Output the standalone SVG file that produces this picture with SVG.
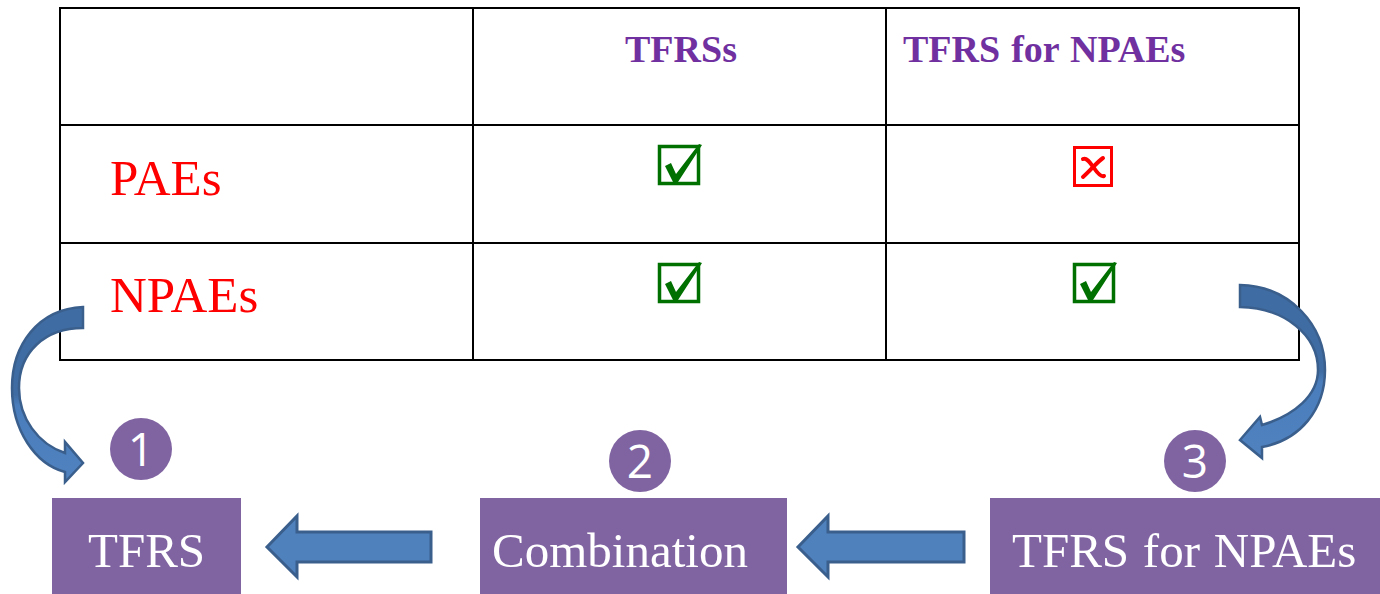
<svg xmlns="http://www.w3.org/2000/svg" width="1380" height="594" viewBox="0 0 1380 594">
  <style>
    .grid { stroke: #000; stroke-width: 2; fill: none; }
    .head { font-family: "Liberation Serif", "Times New Roman", serif; font-weight: bold; font-size: 38px; fill: #7030A0; }
    .rowlbl { font-family: "Liberation Serif", "Times New Roman", serif; font-size: 51px; fill: #FF0000; }
    .box { fill: #8064A2; }
    .boxtxt { font-family: "Liberation Serif", "Times New Roman", serif; font-size: 49px; fill: #FFFFFF; }
    .badge { fill: #8064A2; }
    .badgetxt { font-family: "Open Sans", "Liberation Sans", sans-serif; font-size: 46px; fill: #FFFFFF; text-anchor: middle; }
    .blockarrow { fill: #4F81BD; stroke: #3A5F8D; stroke-width: 3; stroke-linejoin: miter; }
    .curved { fill: url(#curveFill); stroke: #3A5F8D; stroke-width: 2.5; stroke-linejoin: miter; }
  </style>
  <defs>
    <linearGradient id="curveFill" x1="0" y1="0" x2="0" y2="1">
      <stop offset="0" stop-color="#3F6CA2"/>
      <stop offset="0.5" stop-color="#3F6CA2"/>
      <stop offset="0.56" stop-color="#4A7DBB"/>
      <stop offset="1" stop-color="#4F82BF"/>
    </linearGradient>
    <g id="check">
      <rect x="1.5" y="1.5" width="39" height="37" fill="none" stroke="#007000" stroke-width="3.5"/>
      <path d="M7,21 L13,18 L18,29 L41,-1 L44,0 L20,37 L15,37 Z" fill="#007000"/>
    </g>
    <g id="cross">
      <rect x="1.5" y="1.5" width="37" height="38" fill="none" stroke="#FF0000" stroke-width="3"/>
      <path d="M10,13 C14,11 18,18 21,22 C25,28 28,31 31,30" fill="none" stroke="#FF0000" stroke-width="4" stroke-linecap="round"/>
      <path d="M30,12 C24,16 18,24 10,31" fill="none" stroke="#FF0000" stroke-width="4" stroke-linecap="round"/>
    </g>
  </defs>

  <!-- comparison table -->
  <g id="table">
    <rect class="grid" x="60" y="8" width="1239" height="352"/>
    <line class="grid" x1="60" y1="125" x2="1299" y2="125"/>
    <line class="grid" x1="60" y1="243" x2="1299" y2="243"/>
    <line class="grid" x1="473" y1="8" x2="473" y2="360"/>
    <line class="grid" x1="886" y1="8" x2="886" y2="360"/>
    <text class="head" x="625" y="62">TFRSs</text>
    <text class="head" x="903" y="62" word-spacing="1.5">TFRS for NPAEs</text>
    <text class="rowlbl" x="110" y="195">PAEs</text>
    <text class="rowlbl" x="110" y="312">NPAEs</text>
    <use href="#check" x="658" y="145"/>
    <use href="#cross" x="1073" y="146"/>
    <use href="#check" x="658" y="263"/>
    <use href="#check" x="1073" y="263"/>
  </g>

  <!-- step boxes -->
  <g id="step1">
    <rect class="box" x="52" y="498" width="189" height="96"/>
    <text class="boxtxt" x="88" y="567">TFRS</text>
  </g>
  <g id="step2">
    <rect class="box" x="480" y="498" width="307" height="96"/>
    <text class="boxtxt" x="492" y="567">Combination</text>
  </g>
  <g id="step3">
    <rect class="box" x="990" y="498" width="390" height="96"/>
    <text class="boxtxt" x="1012" y="567" word-spacing="1.5">TFRS for NPAEs</text>
  </g>

  <!-- numbered badges -->
  <g id="badge1">
    <circle class="badge" cx="141" cy="449" r="31"/>
    <text class="badgetxt" x="141" y="466">1</text>
  </g>
  <g id="badge2">
    <circle class="badge" cx="640" cy="461" r="31"/>
    <text class="badgetxt" x="640" y="478">2</text>
  </g>
  <g id="badge3">
    <circle class="badge" cx="1195" cy="461" r="31"/>
    <text class="badgetxt" x="1195" y="478">3</text>
  </g>

  <!-- connectors -->
  <g id="connectors">
    <path class="curved" d="M83,307 C38,309 12,345 12,388 C12,430 35,464 65,472 L65,482 L83,463 L65,442 L65,453 C38,444 19,418 19,388 C19,352 45,328 83,328 Z"/>
    <path class="curved" d="M1240,285 C1290,286 1325,325 1325,370 C1325,410 1300,440 1262,447 L1262,458 L1240,440 L1260,417 L1262,425 C1295,415 1318,395 1318,370 C1318,335 1285,308 1240,307 Z"/>
    <path class="blockarrow" d="M431,532 L297,532 L297,516 L267,547 L297,577 L297,562 L431,562 Z"/>
    <path class="blockarrow" d="M964,532 L828,532 L828,516 L798,547 L828,577 L828,562 L964,562 Z"/>
  </g>
</svg>
